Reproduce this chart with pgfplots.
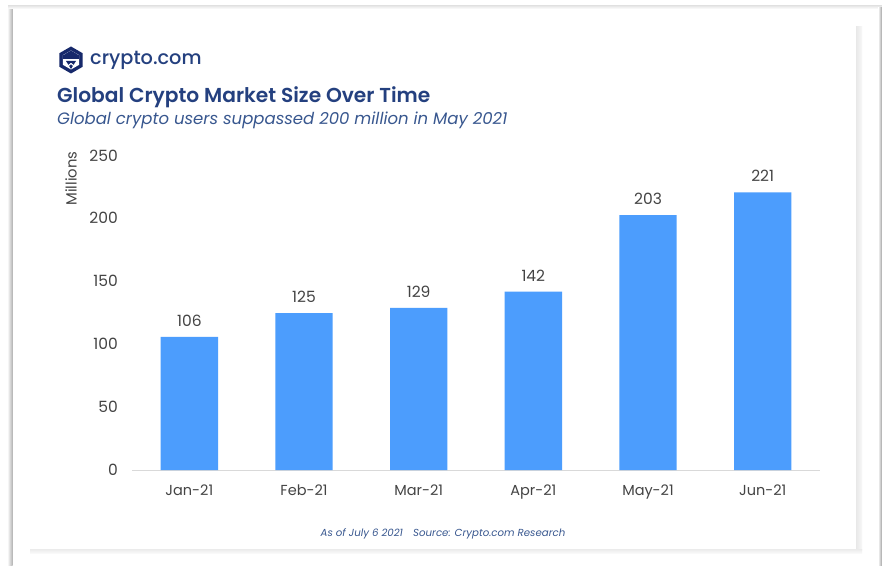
\documentclass[border=0pt]{standalone}
\usepackage{pgfplots}
\pgfplotsset{compat=1.18}
\usepackage{fontspec}
\setmainfont{Poppins}
\usetikzlibrary{calc}
\definecolor{barblue}{HTML}{4C9DFD}
\definecolor{navy}{HTML}{24407F}
\definecolor{subnavy}{HTML}{38578F}
\definecolor{logonavy}{HTML}{17296B}
\definecolor{ticktext}{HTML}{444444}
\pgfplotstableread{
idx users
0 106
1 125
2 129
3 142
4 203
5 221
}\usersdata
\begin{document}
\begin{tikzpicture}[x=1pt,y=1pt]
\path[use as bounding box] (0,0) rectangle (882,565);
\fill[white] (0,0) rectangle (882,565);
% outer frame: soft top edge, darker left and right edges
\fill[left color=gray!8,right color=gray!60] (8,0) rectangle (12.5,557);
\fill[top color=gray!18,bottom color=white] (8,559) rectangle (882,556);
\fill[left color=white,right color=gray!75] (878,0) rectangle (882,557);
% card shadow
\fill[left color=gray!18,right color=gray!6] (856,15) rectangle (862,538);
\fill[top color=gray!16,bottom color=gray!5] (30,16) rectangle (862,12);
% logo
\begin{scope}[shift={(71,505)}]
\fill[logonavy] (90:13.5) -- (30:13.5) -- (-30:13.5) -- (-90:13.5) -- (-150:13.5) -- (150:13.5) -- cycle;
\fill[white] (90:9.5) -- (30:9.5) -- (-30:9.5) -- (-90:9.5) -- (-150:9.5) -- (150:9.5) -- cycle;
\fill[logonavy] (-8.2,4.5) -- (0,9.5) -- (8.2,4.5) -- (8.2,1) -- (-8.2,1) -- cycle;
\fill[logonavy] (-5,-1) -- (5,-1) -- (0,-9) -- cycle;
\draw[white,line width=1.1pt] (0,-3.5) -- (-3,-6) (0,-3.5) -- (3,-6);
\end{scope}
\node[anchor=west,inner sep=0pt,text=navy,font=\fontsize{19.3}{24}\selectfont\fontspec{Poppins Medium}] at (90,504.5) {crypto.com};
% headings
\node[anchor=west,inner sep=0pt,text=navy,font=\fontsize{20.2}{24}\selectfont\fontspec{Poppins SemiBold}] at (57,467.5) {Global Crypto Market Size Over Time};
\node[anchor=west,inner sep=0pt,text=subnavy,font=\fontsize{16.5}{20}\selectfont\itshape] at (57,444.5) {Global crypto users suppassed 200 million in May 2021};
% bars
\begin{axis}[
  at={(132pt,95pt)},anchor=south west,
  scale only axis,width=688pt,height=314pt,
  xmin=-0.5,xmax=5.5,ymin=0,ymax=250,
  axis y line=none,
  axis x line=bottom,
  axis line style={color=gray!30,line width=0.8pt,-},
  xtick={0,1,2,3,4,5},
  xticklabels={Jan-21,Feb-21,Mar-21,Apr-21,May-21,Jun-21},
  major tick length=0pt,
  x tick label style={font=\fontsize{14.5}{16}\selectfont,text=ticktext,yshift=-11pt},
  clip=false,
  /pgf/number format/assume math mode=true,
]
\addplot[ybar,bar width=0.5,fill=barblue,draw=none,
  nodes near coords,
  nodes near coords style={font=\fontsize{15.5}{16}\selectfont,text=ticktext,yshift=7pt},
  ] table[x=idx,y=users] {\usersdata};
\end{axis}
% value scale
\foreach \v/\py in {0/95,50/158,100/221,150/284,200/347,250/409.5}
  \node[anchor=east,inner sep=0pt,text=ticktext,font=\fontsize{15.5}{16}\selectfont] at (118,\py) {\v};
\node[rotate=90,inner sep=0pt,text=ticktext,font=\fontsize{14.8}{16}\selectfont] at (71,386.5) {Millions};
% source line
\node[inner sep=0pt,text=subnavy,font=\fontsize{10.2}{12}\selectfont\itshape] at (443,31.5) {As of July 6 2021\quad Source: Crypto.com Research};
\end{tikzpicture}
\end{document}
